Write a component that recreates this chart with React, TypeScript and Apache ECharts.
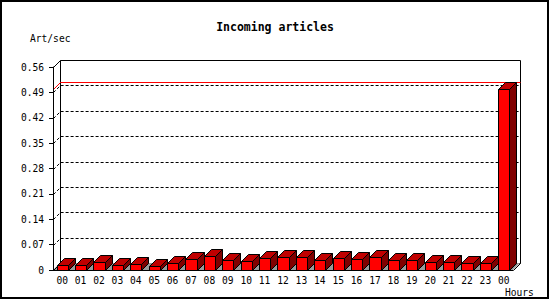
import React, { useEffect, useRef } from "react";
import * as echarts from "echarts";

const hours = ["00","01","02","03","04","05","06","07","08","09","10","11","12","13","14","15","16","17","18","19","20","21","22","23","00"];
const articles = [0.013,0.013,0.022,0.013,0.017,0.010,0.018,0.029,0.040,0.027,0.024,0.032,0.035,0.035,0.027,0.032,0.029,0.035,0.027,0.027,0.021,0.022,0.018,0.018,0.50];
const yTicks = [0, 0.07, 0.14, 0.21, 0.28, 0.35, 0.42, 0.49, 0.56];

const MONO = "'DejaVu Sans Mono', 'Liberation Mono', monospace";
const D = 7;
const p = (v: number) => Math.round(v) + 0.5;

export default function App() {
  const ref = useRef<HTMLDivElement>(null);
  useEffect(() => {
    if (!ref.current) return;
    const chart = echarts.init(ref.current, null, { renderer: "svg" });
    const yMin = yTicks[0];
    const yMaxAxis = yTicks[yTicks.length - 1];
    const maxVal = Math.max(...articles);
    const N = hours.length;

    const frameGeom = (api: any) => {
      const band = api.size([1, 0])[0];
      const c0 = api.coord([0, yMin]);
      const x0 = c0[0] - band / 2;
      const x1 = x0 + band * N;
      return { band, x0, x1, yBase: c0[1], yTop: api.coord([0, yMaxAxis])[1] };
    };

    const option: any = {
      animation: false,
      backgroundColor: "#ffffff",
      title: {
        text: "Incoming articles",
        left: "center",
        top: 16,
        textStyle: { fontFamily: MONO, fontWeight: "bold", fontSize: 11.5, color: "#000" },
      },
      grid: { left: 53, top: 67, width: 460, height: 203 },
      xAxis: {
        type: "category",
        data: hours,
        z: 10,
        axisLine: { lineStyle: { color: "#000", width: 1 } },
        axisTick: { length: 4, lineStyle: { color: "#000" } },
        axisLabel: { color: "#000", fontFamily: MONO, fontSize: 9.6, margin: 5, interval: 0 },
        splitLine: { show: false },
      },
      yAxis: {
        type: "value",
        min: yMin,
        max: yMaxAxis,
        interval: 0.07,
        z: 10,
        axisLine: { show: true, lineStyle: { color: "#000", width: 1 } },
        axisTick: { show: true, length: 4, lineStyle: { color: "#000" } },
        axisLabel: {
          color: "#000",
          fontFamily: MONO,
          fontSize: 9.6,
          margin: 9,
          formatter: (v: number) => (v === 0 ? "0" : v.toFixed(2)),
        },
        splitLine: { show: false },
      },
      graphic: [
        {
          type: "rect",
          shape: { x: 1, y: 1, width: 547, height: 297 },
          style: { fill: "none", stroke: "#000", lineWidth: 2 },
          silent: true,
          z: 100,
        },
        {
          type: "text",
          x: 30,
          y: 38,
          style: { text: "Art/sec", fontFamily: MONO, fontSize: 9.6, fill: "#000", verticalAlign: "middle", align: "left" },
        },
        {
          type: "text",
          x: 505,
          y: 292,
          style: { text: "Hours", fontFamily: MONO, fontSize: 9.6, fill: "#000", verticalAlign: "middle", align: "left" },
        },
      ],
      series: [
        {
          type: "custom",
          name: "frame",
          z: 1,
          silent: true,
          data: [[0, yMin]],
          renderItem: (params: any, api: any) => {
            const g = frameGeom(api);
            const bx0 = p(g.x0 + D), bx1 = p(g.x1 + D);
            const byT = p(g.yTop - D), byB = p(g.yBase - D);
            return {
              type: "group",
              children: [
                {
                  type: "rect",
                  shape: { x: bx0, y: byT, width: bx1 - bx0, height: byB - byT },
                  style: { fill: "#fff", stroke: "#000", lineWidth: 1 },
                },
                {
                  type: "polygon",
                  shape: {
                    points: [
                      [g.x0, g.yBase],
                      [g.x1, g.yBase],
                      [g.x1 + D, g.yBase - D],
                      [g.x0 + D, g.yBase - D],
                    ],
                  },
                  style: { fill: "#999999", stroke: null },
                },
                {
                  type: "line",
                  shape: { x1: p(g.x0), y1: p(g.yTop), x2: bx0, y2: byT },
                  style: { stroke: "#000", lineWidth: 1 },
                },
                {
                  type: "line",
                  shape: { x1: p(g.x0), y1: p(g.yBase), x2: bx0, y2: byB },
                  style: { stroke: "#000", lineWidth: 1 },
                },
                {
                  type: "line",
                  shape: { x1: p(g.x1), y1: p(g.yBase), x2: bx1, y2: byB },
                  style: { stroke: "#000", lineWidth: 1 },
                },
              ],
            };
          },
        },
        {
          type: "custom",
          name: "grid",
          z: 2,
          silent: true,
          data: yTicks.slice(1, -1).map((v) => [0, v]),
          renderItem: (params: any, api: any) => {
            const g = frameGeom(api);
            const y = api.coord([0, api.value(1)])[1];
            return {
              type: "polyline",
              shape: {
                points: [
                  [p(g.x0), p(y)],
                  [p(g.x0 + D), p(y - D)],
                  [p(g.x1 + D), p(y - D)],
                ],
              },
              style: { stroke: "#000", lineWidth: 1, lineDash: [3, 2], fill: null },
            };
          },
        },
        {
          type: "custom",
          name: "max",
          z: 3,
          silent: true,
          data: [[0, maxVal]],
          renderItem: (params: any, api: any) => {
            const g = frameGeom(api);
            const y = api.coord([0, api.value(1)])[1];
            return {
              type: "polyline",
              shape: {
                points: [
                  [p(g.x0), p(y)],
                  [p(g.x0 + D), p(y - D)],
                  [p(g.x1 + D), p(y - D)],
                ],
              },
              style: { stroke: "#ff0000", lineWidth: 1, fill: null },
            };
          },
        },
        {
          type: "custom",
          name: "Incoming articles",
          z: 4,
          data: articles.map((v, i) => [i, v]),
          encode: { x: 0, y: 1 },
          renderItem: (params: any, api: any) => {
            const idx = api.value(0);
            const v = api.value(1);
            const base = api.coord([idx, 0]);
            const top = api.coord([idx, v]);
            const band = api.size([1, 0])[0];
            const L = p(base[0] - band * 0.3);
            const R = p(base[0] - band * 0.3 + band * 0.6);
            const T = p(top[1]);
            const B = p(base[1]);
            const st = { stroke: "#000", lineWidth: 1 };
            return {
              type: "group",
              children: [
                {
                  type: "polygon",
                  shape: { points: [[R, T], [R + D, T - D], [R + D, B - D], [R, B]] },
                  style: { ...st, fill: "#800000" },
                },
                {
                  type: "polygon",
                  shape: { points: [[L, T], [L + D, T - D], [R + D, T - D], [R, T]] },
                  style: { ...st, fill: "#c00000" },
                },
                {
                  type: "rect",
                  shape: { x: L, y: T, width: R - L, height: B - T },
                  style: { ...st, fill: "#ff0000" },
                },
              ],
            };
          },
        },
      ],
    };
    chart.setOption(option);
    return () => chart.dispose();
  }, []);
  return (
    <div
      ref={ref}
      style={{ position: "absolute", left: 0, top: 0, width: 550, height: 300 }}
    />
  );
}
